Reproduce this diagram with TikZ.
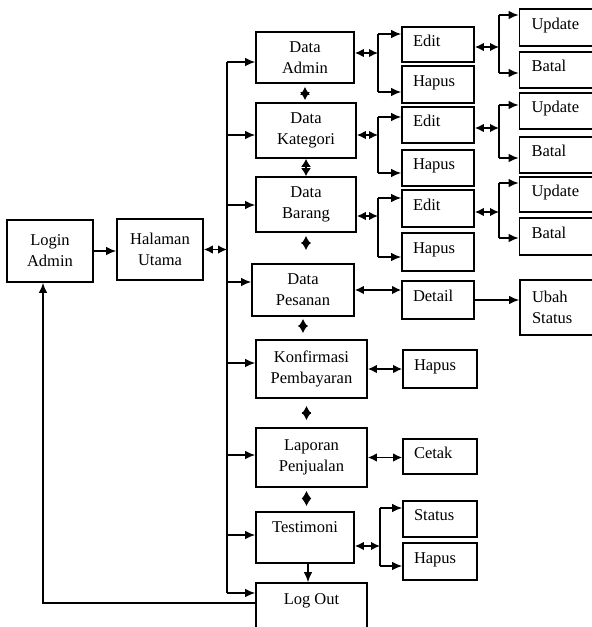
\documentclass[tikz,border=0pt]{standalone}
\usepackage{fontspec}
\setmainfont{Liberation Serif}
\usetikzlibrary{arrows.meta}

\begin{document}
\begin{tikzpicture}[x=1pt, y=-1pt,
menunode/.style={rectangle, draw=black, line width=1.6pt, inner sep=0pt, align=center, font=\fontsize{16.5}{21}\selectfont},
leafbase/.style={rectangle, draw=black, line width=1.6pt, inner xsep=11pt, inner ysep=0pt, align=left, font=\fontsize{16.5}{21}\selectfont},
leafnode/.style={leafbase, minimum width=72pt, text width=50pt, text height=11pt, text depth=8pt},
subnode/.style={leafnode, minimum width=80pt, text width=57pt, inner xsep=12pt},
arr/.style={-{Latex[length=10pt,width=8.5pt]}, line width=1.5pt},
darr/.style={{Latex[length=9pt,width=8.5pt]}-{Latex[length=9pt,width=8.5pt]}, line width=1.5pt},
dia/.style={{Latex[length=8pt,width=10pt]}-{Latex[length=8pt,width=10pt]}, line width=1.5pt},
]
\useasboundingbox (0,0) rectangle (592,627);

%Nodes
\node[menunode, minimum width=86pt, minimum height=62pt]  (login)      at (50,251)    {Login\\Admin};
\node[menunode, minimum width=86pt, minimum height=61pt]  (utama)      at (160,249.5) {Halaman\\Utama};
\node[menunode, minimum width=98pt, minimum height=51pt]  (admin)      at (305,57.5)  {Data\\Admin};
\node[menunode, minimum width=100pt, minimum height=55pt] (kategori)   at (306,130.5) {Data\\Kategori};
\node[menunode, minimum width=100pt, minimum height=55pt] (barang)     at (306,204.5) {Data\\Barang};
\node[menunode, minimum width=102pt, minimum height=52pt] (pesanan)    at (303,290)   {Data\\Pesanan};
\node[menunode, minimum width=111pt, minimum height=58pt] (konfirmasi) at (311.5,369) {Konfirmasi\\Pembayaran};
\node[menunode, minimum width=111pt, minimum height=59pt] (laporan)    at (311.5,457.5) {Laporan\\Penjualan};
\node[menunode, minimum width=98pt, minimum height=51pt]  (testimoni)  at (305,537.5) {Testimoni\\~};
\node[menunode, minimum width=111pt, minimum height=54pt] (logout)     at (311.5,610) {Log Out\\~};

\node[leafnode, minimum height=35pt] (edita)  at (438,44.5) {Edit};
\node[leafnode, minimum height=37pt] (hapusa) at (438,84.5) {Hapus};
\node[leafnode, minimum height=36pt] (editk)  at (438,125)  {Edit};
\node[leafnode, minimum height=36pt] (hapusk) at (438,168)  {Hapus};
\node[leafnode, minimum height=37pt] (editb)  at (438,208.5) {Edit};
\node[leafnode, minimum height=38pt] (hapusb) at (438,252)  {Hapus};
\node[leafnode, minimum height=38pt] (detail) at (438,300)  {Detail};
\node[leafnode, minimum width=74pt, text width=52pt, minimum height=38pt] (hapusp) at (440,369) {Hapus};
\node[leafnode, minimum width=74pt, text width=52pt, minimum height=35pt] (cetak)  at (440,456.5) {Cetak};
\node[leafnode, minimum width=74pt, text width=52pt, minimum height=36pt] (status) at (440,519)   {Status};
\node[leafnode, minimum width=74pt, text width=52pt, minimum height=37pt] (hapust) at (440,561.5) {Hapus};

\node[subnode, minimum height=37pt] (updatea) at (560,27.5)  {Update};
\node[subnode, minimum height=36pt] (batala)  at (560,70)    {Batal};
\node[subnode, minimum height=36pt] (updatek) at (560,111)   {Update};
\node[subnode, minimum height=36pt] (batalk)  at (560,155)   {Batal};
\node[subnode, minimum height=35pt] (updateb) at (560,194.5) {Update};
\node[subnode, minimum height=37pt] (batalb)  at (560,236.5) {Batal};
\node[leafbase, minimum width=80pt, text width=56pt, minimum height=55pt] (ubah) at (560,307.5) {Ubah\\Status};

%Joints
\foreach \n/\y in {admin/62, kategori/135, barang/205, pesanan/282, konfirmasi/363, laporan/455, testimoni/535, logout/593}
  \coordinate (t-\n) at (227,\y);
\coordinate (ja) at (378,53);  \coordinate (ja1) at (378,34);  \coordinate (ja2) at (378,92);
\coordinate (jk) at (378,135); \coordinate (jk1) at (378,117); \coordinate (jk2) at (378,173);
\coordinate (jb) at (378,216); \coordinate (jb1) at (378,198); \coordinate (jb2) at (378,257);
\coordinate (jea) at (499,47);  \coordinate (jea1) at (499,15);  \coordinate (jea2) at (499,73);
\coordinate (jek) at (499,128); \coordinate (jek1) at (499,105); \coordinate (jek2) at (499,158);
\coordinate (jeb) at (499,212); \coordinate (jeb1) at (499,183); \coordinate (jeb2) at (499,238);
\coordinate (jt) at (380,546); \coordinate (jt1) at (380,508); \coordinate (jt2) at (380,566);
\coordinate (back) at (43,603);

%Lines
\draw[arr] (login.east) -- (login.east -| utama.west);
\draw[darr] (utama.east) -- (utama.east -| t-admin);
\draw[line width=1.5pt] (t-admin) -- (t-logout);
\foreach \n in {admin, kategori, barang, pesanan, konfirmasi, laporan, testimoni, logout}
  \draw[arr] (t-\n) -- (\n.west |- t-\n);
\draw[arr] (logout.west |- back) -- (back) -- (login.south -| back);

\draw[dia, shorten <=3pt, shorten >=2pt]   (admin.south) -- (admin.south |- kategori.north);
\draw[dia]                                 (kategori.south) -- (kategori.south |- barang.north);
\draw[dia, shorten <=3pt, shorten >=13pt]  (barang.south) -- (barang.south |- pesanan.north);
\draw[dia, shorten <=2pt, shorten >=6pt]   (pesanan.south) -- (pesanan.south |- konfirmasi.north);
\draw[dia, shorten <=7pt, shorten >=7pt]   ([xshift=-5pt]konfirmasi.south) -- ([xshift=-5pt]konfirmasi.south |- laporan.north);
\draw[dia, shorten <=3pt, shorten >=5pt]   ([xshift=-5pt]laporan.south) -- ([xshift=-5pt]laporan.south |- testimoni.north);
\draw[arr] ([xshift=3pt]testimoni.south) -- ([xshift=3pt]testimoni.south |- logout.north);

\draw[darr] (admin.east |- ja) -- (ja);
\draw[line width=1.5pt] (ja1) -- (ja2);
\draw[arr] (ja1) -- (edita.west |- ja1);
\draw[arr] (ja2) -- (hapusa.west |- ja2);

\draw[darr] (kategori.east |- jk) -- (jk);
\draw[line width=1.5pt] (jk1) -- (jk2);
\draw[arr] (jk1) -- (editk.west |- jk1);
\draw[arr] (jk2) -- (hapusk.west |- jk2);

\draw[darr] (barang.east |- jb) -- (jb);
\draw[line width=1.5pt] (jb1) -- (jb2);
\draw[arr] (jb1) -- (editb.west |- jb1);
\draw[arr] (jb2) -- (hapusb.west |- jb2);

\draw[darr] (edita.east |- jea) -- (jea);
\draw[line width=1.5pt] (jea1) -- (jea2);
\draw[arr] (jea1) -- (updatea.west |- jea1);
\draw[arr] (jea2) -- (batala.west |- jea2);

\draw[darr] (editk.east |- jek) -- (jek);
\draw[line width=1.5pt] (jek1) -- (jek2);
\draw[arr] (jek1) -- (updatek.west |- jek1);
\draw[arr] (jek2) -- (batalk.west |- jek2);

\draw[darr] (editb.east |- jeb) -- (jeb);
\draw[line width=1.5pt] (jeb1) -- (jeb2);
\draw[arr] (jeb1) -- (updateb.west |- jeb1);
\draw[arr] (jeb2) -- (batalb.west |- jeb2);

\draw[darr] (pesanan.east) -- (pesanan.east -| detail.west);
\draw[arr] (detail.east) -- (detail.east -| ubah.west);
\draw[darr] (konfirmasi.east) -- (konfirmasi.east -| hapusp.west);
\draw[darr] (laporan.east) -- (laporan.east -| cetak.west);

\draw[darr] (testimoni.east |- jt) -- (jt);
\draw[line width=1.5pt] (jt1) -- (jt2);
\draw[arr] (jt1) -- (status.west |- jt1);
\draw[arr] (jt2) -- (hapust.west |- jt2);
\end{tikzpicture}
\end{document}
